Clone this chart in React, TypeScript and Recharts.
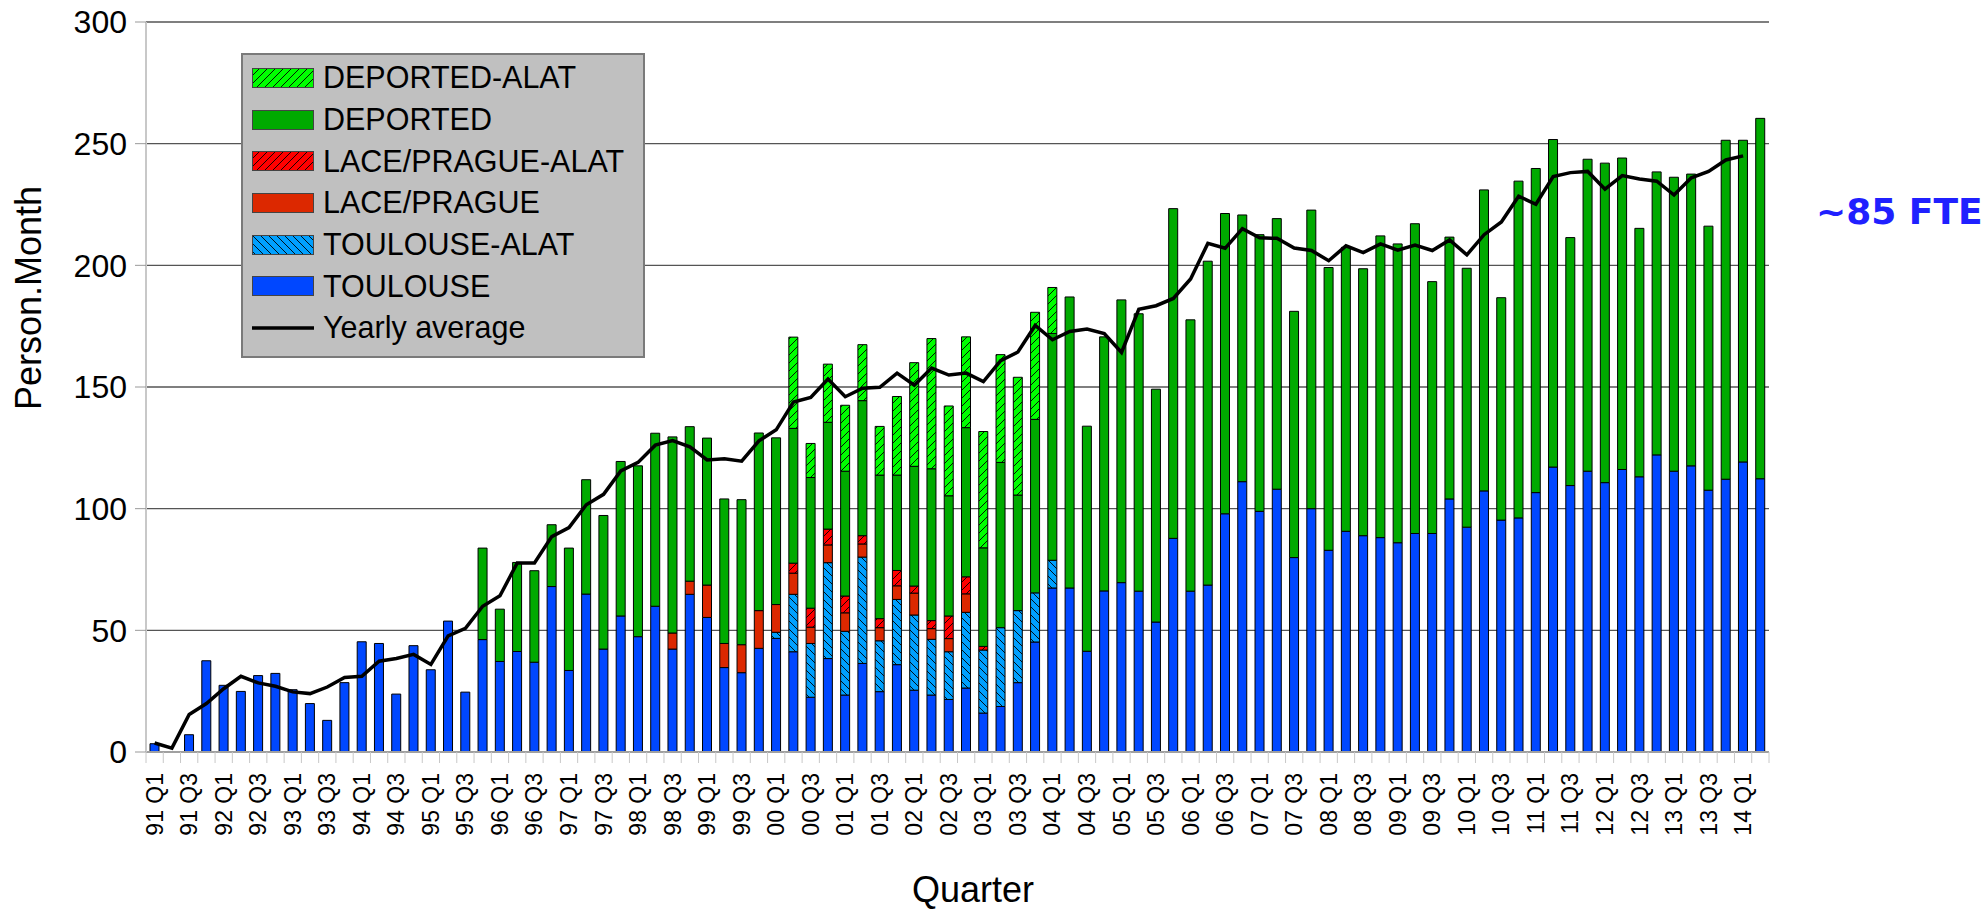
import { Bar, CartesianGrid, ComposedChart, Legend, Line, XAxis, YAxis } from 'recharts';

// quarters, 91 Q1 .. 14 Q2
const quarters = [
  '91 Q1', '91 Q2', '91 Q3', '91 Q4', '92 Q1', '92 Q2', '92 Q3', '92 Q4',
  '93 Q1', '93 Q2', '93 Q3', '93 Q4', '94 Q1', '94 Q2', '94 Q3', '94 Q4',
  '95 Q1', '95 Q2', '95 Q3', '95 Q4', '96 Q1', '96 Q2', '96 Q3', '96 Q4',
  '97 Q1', '97 Q2', '97 Q3', '97 Q4', '98 Q1', '98 Q2', '98 Q3', '98 Q4',
  '99 Q1', '99 Q2', '99 Q3', '99 Q4', '00 Q1', '00 Q2', '00 Q3', '00 Q4',
  '01 Q1', '01 Q2', '01 Q3', '01 Q4', '02 Q1', '02 Q2', '02 Q3', '02 Q4',
  '03 Q1', '03 Q2', '03 Q3', '03 Q4', '04 Q1', '04 Q2', '04 Q3', '04 Q4',
  '05 Q1', '05 Q2', '05 Q3', '05 Q4', '06 Q1', '06 Q2', '06 Q3', '06 Q4',
  '07 Q1', '07 Q2', '07 Q3', '07 Q4', '08 Q1', '08 Q2', '08 Q3', '08 Q4',
  '09 Q1', '09 Q2', '09 Q3', '09 Q4', '10 Q1', '10 Q2', '10 Q3', '10 Q4',
  '11 Q1', '11 Q2', '11 Q3', '11 Q4', '12 Q1', '12 Q2', '12 Q3', '12 Q4',
  '13 Q1', '13 Q2', '13 Q3', '13 Q4', '14 Q1', '14 Q2',
];

const toulouse = [
  3.4, 0, 7.1, 37.5, 27.4, 24.9, 31.4, 32.3, 25.6, 19.9,
  13.0, 28.5, 45.3, 44.6, 23.8, 43.7, 33.8, 53.8, 24.6, 46.2,
  37.2, 41.3, 36.9, 68.0, 33.5, 64.9, 42.3, 55.9, 47.4, 59.9,
  42.3, 64.8, 55.3, 34.7, 32.6, 42.6, 46.7, 41.2, 22.5, 38.4,
  23.4, 36.4, 24.8, 35.9, 25.4, 23.4, 21.6, 26.3, 16.0, 18.7,
  28.5, 45.2, 67.4, 67.4, 41.4, 66.2, 69.6, 66.1, 53.4, 87.8,
  66.1, 68.6, 97.9, 111.1, 98.9, 108.0, 79.9, 100.0, 82.9, 90.7,
  88.9, 88.1, 86.0, 89.8, 89.8, 104.0, 92.4, 107.3, 95.3, 96.2,
  106.6, 117.1, 109.5, 115.4, 110.7, 116.1, 113.1, 122.1, 115.4, 117.6,
  107.6, 112.1, 119.2, 112.3,
];

const toulouseAlat = [
  0, 0, 0, 0, 0, 0, 0, 0, 0, 0,
  0, 0, 0, 0, 0, 0, 0, 0, 0, 0,
  0, 0, 0, 0, 0, 0, 0, 0, 0, 0,
  0, 0, 0, 0, 0, 0, 2.5, 23.6, 22.1, 39.4,
  26.2, 43.7, 20.9, 26.8, 30.9, 22.9, 19.6, 31.1, 25.9, 32.4,
  29.6, 20.2, 11.4, 0, 0, 0, 0, 0, 0, 0,
  0, 0, 0, 0, 0, 0, 0, 0, 0, 0,
  0, 0, 0, 0, 0, 0, 0, 0, 0, 0,
  0, 0, 0, 0, 0, 0, 0, 0, 0, 0,
  0, 0, 0, 0,
];

const lacePrague = [
  0, 0, 0, 0, 0, 0, 0, 0, 0, 0,
  0, 0, 0, 0, 0, 0, 0, 0, 0, 0,
  0, 0, 0, 0, 0, 0, 0, 0, 0, 0,
  6.6, 5.4, 13.3, 9.9, 11.5, 15.5, 11.4, 8.7, 6.7, 7.3,
  7.6, 5.4, 5.4, 5.6, 9.0, 4.4, 5.4, 7.6, 0, 0,
  0, 0, 0, 0, 0, 0, 0, 0, 0, 0,
  0, 0, 0, 0, 0, 0, 0, 0, 0, 0,
  0, 0, 0, 0, 0, 0, 0, 0, 0, 0,
  0, 0, 0, 0, 0, 0, 0, 0, 0, 0,
  0, 0, 0, 0,
];

const lacePragueAlat = [
  0, 0, 0, 0, 0, 0, 0, 0, 0, 0,
  0, 0, 0, 0, 0, 0, 0, 0, 0, 0,
  0, 0, 0, 0, 0, 0, 0, 0, 0, 0,
  0, 0, 0, 0, 0, 0, 0, 4.1, 7.8, 6.5,
  6.9, 3.4, 3.7, 6.3, 2.9, 3.3, 9.3, 7.0, 1.5, 0,
  0, 0, 0, 0, 0, 0, 0, 0, 0, 0,
  0, 0, 0, 0, 0, 0, 0, 0, 0, 0,
  0, 0, 0, 0, 0, 0, 0, 0, 0, 0,
  0, 0, 0, 0, 0, 0, 0, 0, 0, 0,
  0, 0, 0, 0,
];

const deported = [
  0, 0, 0, 0, 0, 0, 0, 0, 0, 0,
  0, 0, 0, 0, 0, 0, 0, 0, 0, 37.6,
  21.5, 36.6, 37.6, 25.4, 50.3, 47.0, 54.9, 63.5, 70.2, 71.1,
  80.6, 63.5, 60.4, 59.4, 59.6, 73.0, 68.5, 55.4, 53.7, 43.9,
  51.3, 55.5, 59.0, 39.2, 49.2, 62.4, 49.4, 61.3, 40.5, 67.9,
  47.5, 71.3, 93.2, 119.6, 92.5, 104.4, 116.2, 114.0, 95.7, 135.5,
  111.5, 133.1, 123.4, 109.6, 113.7, 111.2, 101.2, 122.7, 116.2, 116.7,
  109.7, 124.0, 122.8, 127.3, 103.5, 107.6, 106.4, 123.7, 91.4, 138.4,
  133.2, 134.6, 101.9, 128.2, 131.3, 128.0, 102.1, 116.3, 120.8, 119.9,
  108.5, 139.3, 132.2, 148.1,
];

const deportedAlat = [
  0, 0, 0, 0, 0, 0, 0, 0, 0, 0,
  0, 0, 0, 0, 0, 0, 0, 0, 0, 0,
  0, 0, 0, 0, 0, 0, 0, 0, 0, 0,
  0, 0, 0, 0, 0, 0, 0, 37.5, 14.0, 23.9,
  27.1, 23.0, 20.0, 32.3, 42.6, 53.5, 36.9, 37.3, 47.8, 44.3,
  48.4, 44.0, 18.9, 0, 0, 0, 0, 0, 0, 0,
  0, 0, 0, 0, 0, 0, 0, 0, 0, 0,
  0, 0, 0, 0, 0, 0, 0, 0, 0, 0,
  0, 0, 0, 0, 0, 0, 0, 0, 0, 0,
  0, 0, 0, 0,
];

const yearlyAverage = [
  3.7, 1.6, 15.4, 19.9, 26.0, 31.1, 28.4, 27.0, 24.7, 24.0,
  26.7, 30.6, 31.1, 37.3, 38.4, 40.1, 36.0, 47.7, 50.8, 59.9,
  64.2, 77.7, 77.7, 88.5, 92.2, 101.6, 105.9, 115.5, 119.0, 126.1,
  128.0, 125.4, 120.0, 120.5, 119.5, 127.9, 132.4, 143.8, 145.7, 153.3,
  146.0, 149.5, 149.9, 155.7, 150.7, 157.8, 154.9, 155.7, 152.2, 160.8,
  164.4, 175.3, 169.4, 172.8, 173.8, 172.0, 164.2, 181.9, 183.4, 186.4,
  194.4, 209.0, 207.0, 215.1, 211.3, 211.1, 207.1, 206.1, 201.9, 208.0,
  205.2, 208.8, 206.2, 208.3, 206.1, 210.4, 204.3, 212.6, 217.8, 228.4,
  225.1, 236.5, 238.1, 238.6, 231.3, 236.9, 235.5, 234.6, 228.9, 236.0,
  238.6, 243.3, 245.0, null,
];

const yTicks = [0, 50, 100, 150, 200, 250, 300];

const data = quarters.map((q, i) => ({
  q,
  toulouse: toulouse[i],
  toulouseAlat: toulouseAlat[i],
  lace: lacePrague[i],
  laceAlat: lacePragueAlat[i],
  deported: deported[i],
  deportedAlat: deportedAlat[i],
  avg: yearlyAverage[i],
}));

const FONT = '"Liberation Sans", Arial, sans-serif';
const PLOT_BOTTOM = 752;

const legendItems = [
  { label: 'DEPORTED-ALAT', fill: 'url(#hatchDepAlat)' },
  { label: 'DEPORTED', fill: '#00aa00' },
  { label: 'LACE/PRAGUE-ALAT', fill: 'url(#hatchLaceAlat)' },
  { label: 'LACE/PRAGUE', fill: '#dc2800' },
  { label: 'TOULOUSE-ALAT', fill: 'url(#hatchToulAlat)' },
  { label: 'TOULOUSE', fill: '#0047ff' },
  { label: 'Yearly average', line: true },
];

function QuarterTick(props: any) {
  const { x, payload, index } = props;
  const half = payload?.offset || 8.63;
  return (
    <g>
      <line x1={x - half} x2={x - half} y1={PLOT_BOTTOM} y2={PLOT_BOTTOM + 11} stroke="#c8c8c8" />
      {index === quarters.length - 1 && (
        <line x1={x + half} x2={x + half} y1={PLOT_BOTTOM} y2={PLOT_BOTTOM + 11} stroke="#c8c8c8" />
      )}
      {index % 2 === 0 && (
        <text
          transform="rotate(-90)"
          x={-773}
          y={x}
          textAnchor="end"
          dominantBaseline="central"
          fontSize={23}
          fontFamily={FONT}
          fill="#000"
        >
          {payload.value}
        </text>
      )}
    </g>
  );
}

function LegendBox() {
  return (
    <div
      style={{
        width: 404,
        height: 305,
        boxSizing: 'border-box',
        background: '#c0c0c0',
        border: '2px solid #7a7a7a',
        paddingTop: 2,
        fontFamily: FONT,
      }}
    >
      {legendItems.map((it) => (
        <div key={it.label} style={{ display: 'flex', alignItems: 'center', height: 41.7 }}>
          <svg width={62} height={20} style={{ marginLeft: 9, marginRight: 9 }}>
            {it.line ? (
              <line x1={0} x2={62} y1={10} y2={10} stroke="#000" strokeWidth={3.5} />
            ) : (
              <rect x={0.5} y={0.5} width={61} height={19} fill={it.fill} stroke="#444" strokeWidth={1} />
            )}
          </svg>
          <span style={{ fontSize: 30.5, color: '#000', whiteSpace: 'nowrap' }}>{it.label}</span>
        </div>
      ))}
    </div>
  );
}

export default function App() {
  return (
    <div style={{ position: 'absolute', left: 0, top: 0, width: 1988, height: 911, background: '#fff' }}>
      <svg width={0} height={0} style={{ position: 'absolute' }}>
        <defs>
          <pattern id="hatchDepAlat" patternUnits="userSpaceOnUse" width={8} height={8}>
            <rect width={8} height={8} fill="#00ff00" />
            <path d="M-1,1 l2,-2 M0,8 l8,-8 M7,9 l2,-2" stroke="#000" strokeWidth={0.9} />
          </pattern>
          <pattern id="hatchLaceAlat" patternUnits="userSpaceOnUse" width={8} height={8}>
            <rect width={8} height={8} fill="#ff0000" />
            <path d="M-1,1 l2,-2 M0,8 l8,-8 M7,9 l2,-2" stroke="#000" strokeWidth={0.9} />
          </pattern>
          <pattern id="hatchToulAlat" patternUnits="userSpaceOnUse" width={8} height={8}>
            <rect width={8} height={8} fill="#00a0ff" />
            <path d="M-1,7 l2,2 M0,0 l8,8 M7,-1 l2,2" stroke="#000" strokeWidth={0.9} />
          </pattern>
        </defs>
      </svg>

      <ComposedChart
        width={1988}
        height={911}
        data={data}
        margin={{ top: 22, right: 219, bottom: 0, left: 0 }}
      >
        <CartesianGrid vertical={false} stroke="#555" strokeWidth={1.3} />
        <XAxis
          dataKey="q"
          interval={0}
          height={159}
          tickLine={false}
          axisLine={{ stroke: '#a0a0a0', strokeWidth: 2 }}
          tick={(p: any) => <QuarterTick {...p} />}
        />
        <YAxis
          domain={[0, 300]}
          ticks={yTicks}
          width={146}
          tickSize={11}
          tickMargin={8}
          tick={{ fontSize: 32, fill: '#000', fontFamily: FONT }}
          tickLine={{ stroke: '#999' }}
          axisLine={{ stroke: '#c8c8c8', strokeWidth: 2 }}
        />
        <Legend
          layout="vertical"
          align="center"
          verticalAlign="middle"
          wrapperStyle={{ left: 241, top: 53, width: 404 }}
          content={() => <LegendBox />}
        />
        <Bar dataKey="toulouse" stackId="s" fill="#0047ff" stroke="#000" strokeWidth={1} barSize={9} isAnimationActive={false} />
        <Bar dataKey="toulouseAlat" stackId="s" fill="url(#hatchToulAlat)" stroke="#000" strokeWidth={1} barSize={9} isAnimationActive={false} />
        <Bar dataKey="lace" stackId="s" fill="#dc2800" stroke="#000" strokeWidth={1} barSize={9} isAnimationActive={false} />
        <Bar dataKey="laceAlat" stackId="s" fill="url(#hatchLaceAlat)" stroke="#000" strokeWidth={1} barSize={9} isAnimationActive={false} />
        <Bar dataKey="deported" stackId="s" fill="#00aa00" stroke="#000" strokeWidth={1} barSize={9} isAnimationActive={false} />
        <Bar dataKey="deportedAlat" stackId="s" fill="url(#hatchDepAlat)" stroke="#000" strokeWidth={1} barSize={9} isAnimationActive={false} />
        <Line
          type="linear"
          dataKey="avg"
          stroke="#000"
          strokeWidth={3.5}
          dot={false}
          activeDot={false}
          connectNulls={false}
          isAnimationActive={false}
        />
      </ComposedChart>

      <svg width={1988} height={911} style={{ position: 'absolute', left: 0, top: 0, pointerEvents: 'none' }}>
        <text
          transform="rotate(-90)"
          x={-298}
          y={28}
          textAnchor="middle"
          dominantBaseline="central"
          fontSize={36}
          fontFamily={FONT}
          fill="#000"
        >
          Person.Month
        </text>
        <text x={973} y={902} textAnchor="middle" fontSize={36} fontFamily={FONT} fill="#000">
          Quarter
        </text>
        <text x={1816} y={224} fontSize={36} fontWeight="bold" fontFamily='"DejaVu Sans", sans-serif' fill="#2020ff">
          ~85 FTE
        </text>
      </svg>
    </div>
  );
}
